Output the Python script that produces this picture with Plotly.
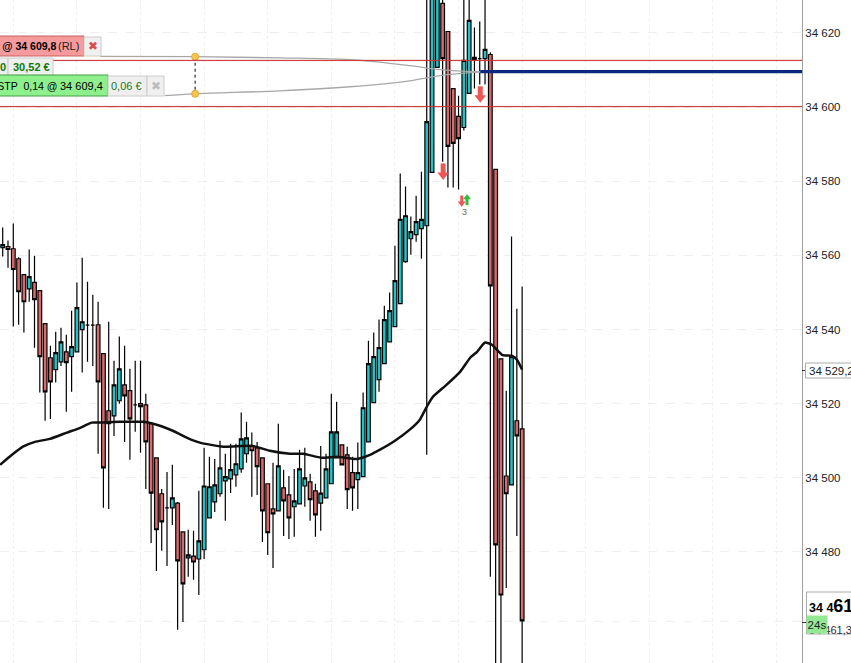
import plotly.graph_objects as go

W, H = 851, 663
PLOT_W = 802

opens = [34562.1,34562.4,34561.8,34559.1,34554.8,34551.0,34552.7,34550.5,34541.6,34532.4,
 34529.2,34531.3,34534.0,34532.7,34534.0,34540.0,34541.2,34541.2,34541.3,34533.5,
 34518.1,34516.7,34520.8,34525.1,34523.5,34519.7,34520.0,34519.7,34514.6,34505.4,
 34495.7,34491.9,34491.9,34493.2,34485.4,34478.4,34478.9,34478.1,34480.6,34489.2,
 34493.5,34495.7,34499.2,34499.7,34500.8,34502.4,34506.5,34508.6,34508.1,34505.4,
 34498.4,34491.6,34491.1,34497.3,34495.4,34492.2,34493.0,34497.8,34498.9,34496.5,
 34493.2,34494.6,34498.4,34505.4,34508.9,34506.2,34501.4,34499.5,34500.3,34509.7,
 34520.3,34526.5,34530.8,34536.7,34540.8,34547.0,34558.3,34564.5,34565.6,34567.2,
 34568.0,34582.4,34610.7,34628.0,34620.4,34605.0,34597.5,34594.5,34603.7,34613.4,
 34613.1,34613.1,34614.2,34583.2,34532.1,34500.5,34498.1,34515.4,34513.2]
highs = [34567.5,34564.0,34568.6,34559.5,34555.0,34561.6,34559.9,34550.5,34541.6,34535.6,
 34539.4,34540.5,34538.6,34545.1,34552.7,34559.4,34552.9,34549.4,34547.5,34533.5,
 34542.1,34531.6,34538.1,34535.6,34529.4,34531.6,34531.6,34522.7,34514.9,34505.4,
 34497.0,34501.6,34503.5,34493.5,34485.4,34486.0,34485.7,34496.5,34508.1,34505.7,
 34505.1,34510.0,34506.5,34509.2,34509.2,34517.6,34515.1,34512.2,34509.7,34505.4,
 34498.4,34504.1,34514.6,34502.2,34500.5,34502.4,34507.6,34508.1,34501.1,34498.4,
 34508.6,34506.5,34522.7,34520.5,34508.9,34508.4,34505.7,34509.5,34523.0,34537.0,
 34539.2,34542.7,34546.4,34550.0,34562.6,34582.1,34578.6,34570.5,34576.1,34582.6,
 34635.0,34640.0,34645.0,34640.0,34620.4,34605.0,34603.1,34640.0,34645.0,34621.5,
 34623.1,34640.0,34614.8,34583.2,34532.1,34523.5,34565.1,34545.6,34551.6]
lows = [34559.7,34556.7,34540.8,34541.3,34539.2,34547.5,34535.1,34523.0,34515.4,34515.9,
 34525.7,34530.2,34517.8,34523.2,34534.0,34528.4,34531.3,34530.2,34506.5,34491.9,
 34491.6,34511.3,34520.0,34509.7,34504.9,34512.4,34506.8,34497.0,34482.4,34474.9,
 34480.3,34476.2,34487.3,34459.0,34461.1,34473.3,34472.5,34468.4,34478.1,34489.2,
 34490.8,34494.9,34488.4,34495.9,34497.6,34501.4,34504.1,34494.9,34495.4,34482.7,
 34479.2,34475.7,34491.1,34484.3,34483.5,34484.1,34493.0,34492.2,34488.4,34484.1,
 34485.7,34494.6,34498.4,34505.4,34503.5,34491.6,34491.1,34491.6,34500.3,34509.7,
 34520.3,34523.2,34530.8,34536.7,34540.8,34547.0,34558.0,34560.2,34563.7,34559.1,
 34506.2,34582.4,34610.7,34585.3,34578.3,34578.3,34577.8,34593.7,34603.7,34605.0,
 34606.1,34606.1,34473.3,34440.0,34440.0,34470.3,34498.1,34484.3,34440.0]
closes = [34562.9,34561.6,34556.2,34550.2,34547.5,34554.3,34548.1,34532.7,34523.2,34525.9,
 34533.8,34536.7,34531.1,34535.4,34545.9,34542.1,34541.2,34541.2,34525.9,34502.7,
 34514.6,34525.1,34529.4,34522.1,34515.9,34519.7,34519.2,34509.7,34495.9,34486.0,
 34488.1,34491.9,34494.6,34477.6,34471.4,34479.2,34477.3,34483.0,34497.8,34497.6,
 34498.1,34502.7,34500.3,34502.2,34503.8,34510.5,34510.8,34507.3,34503.0,34491.1,
 34485.2,34490.3,34503.2,34493.8,34489.2,34493.8,34502.4,34500.0,34494.1,34490.0,
 34495.9,34502.4,34512.4,34512.4,34503.5,34496.8,34497.3,34501.4,34518.9,34530.8,
 34532.7,34535.1,34542.7,34545.1,34553.2,34569.7,34570.7,34566.4,34569.1,34569.7,
 34596.1,34632.0,34635.0,34613.1,34589.4,34590.2,34591.5,34612.6,34623.4,34612.9,
 34613.1,34615.6,34551.8,34481.9,34468.4,34495.7,34532.7,34511.3,34461.4]

ma_index = [-0.5,1.75,3.8,6.1,8.9,12.1,14.6,16.8,18.4,22.1,26.5,28.4,32.1,34.8,37.2,41.6,47.2,50.4,54.2,56.7,
 60.2,63.1,66.8,69.3,71.2,74,76.8,78.7,80.2,81.2,83.5,86.3,88.2,89.5,91,92.3,94.2,96.1,97,98]
ma_values = [34503.5,34506.2,34508.4,34509.7,34510.5,34512.2,34513.5,34514.9,34514.9,34515.1,34515.1,34514.6,34512.7,
 34510.8,34509.5,34508.4,34508.6,34507.3,34506.5,34506.5,34505.4,34505.7,34505.1,34506.2,34507.6,34510.0,34513.0,
 34515.7,34519.7,34521.9,34524.8,34528.6,34532.4,34534.0,34536.5,34535.9,34533.2,34532.9,34531.9,34529.2]

tick_values = [34480,34500,34520,34540,34560,34580,34600,34620]
tick_labels = ["34 480","34 500","34 520","34 540","34 560","34 580","34 600","34 620"]
grid_x = [2.0,14.0,26.0,38.0,50.0,62.0,74.0,86.0,98.0,110.0,122.0,134.0,146.0]

order_red = [34612.6, 34600.15]
order_blue = 34609.6
last_price = 34461.3
curve_up_x = [18.4,36.3,52.3,65.5,76.8,82.5,90.1]
curve_up_y = [34613.7,34613.6,34613.3,34612.8,34611.2,34610.1,34609.5]
curve_lo_x = [30.6,36.3,52.3,65.5,76.8,82.5,90.1]
curve_lo_y = [34603.1,34603.6,34604.4,34605.5,34607.1,34608.5,34609.5]

TEAL, RED = "#22c3c6", "#d96a6c"

def px(x): return x / PLOT_W
def py(y): return 1 - y / H

fig = go.Figure()
fig.add_trace(go.Candlestick(x=list(range(len(opens))), open=opens, high=highs, low=lows, close=closes,
    increasing=dict(fillcolor=TEAL, line=dict(color="#000000", width=1.2)),
    decreasing=dict(fillcolor=RED, line=dict(color="#000000", width=1.2)),
    whiskerwidth=0, hoverinfo="skip", showlegend=False))
fig.add_trace(go.Scatter(x=ma_index, y=ma_values, mode="lines", line=dict(color="#111111", width=2.5, shape="spline", smoothing=0.5), hoverinfo="skip"))
fig.add_trace(go.Scatter(x=curve_up_x, y=curve_up_y, mode="lines", line=dict(color="#a8a8a8", width=1.3, shape="spline"), hoverinfo="skip"))
fig.add_trace(go.Scatter(x=curve_lo_x, y=curve_lo_y, mode="lines", line=dict(color="#a8a8a8", width=1.3, shape="spline"), hoverinfo="skip"))
fig.add_trace(go.Scatter(x=[90.1,151], y=[order_blue,order_blue], mode="lines", line=dict(color="#0a2a80", width=3.2), hoverinfo="skip"))
fig.add_trace(go.Scatter(x=[36.3,36.3], y=[34613.6,34603.6], mode="lines+markers",
    line=dict(color="#000000", width=1, dash="3px,3px"),
    marker=dict(size=7, color="#f6c64e", line=dict(color="#e0a830", width=1)), hoverinfo="skip"))

def arrow(idx, stem, head, color, symbol, stem_len, stem_w, head_size):
    fig.add_trace(go.Scatter(x=[idx], y=[stem], mode="markers", hoverinfo="skip",
        marker=dict(symbol="line-ns", size=stem_len, line=dict(color=color, width=stem_w))))
    fig.add_trace(go.Scatter(x=[idx], y=[head], mode="markers", hoverinfo="skip",
        marker=dict(symbol=symbol, size=head_size, color=color, line=dict(width=0))))
arrow(83.1, 34583.3, 34581.7, "#ee5555", "triangle-down", 8, 5, 10)
arrow(90.1, 34604.1, 34602.5, "#ee5555", "triangle-down", 8, 5, 10)
arrow(86.6, 34575.2, 34574.1, "#ee5555", "triangle-down", 5, 3, 7)
arrow(87.6, 34574.5, 34575.6, "#33bb44", "triangle-up", 5, 3, 7)

shapes, notes = [], []
def rect(x0, y0, x1, y1, fill, line="rgba(0,0,0,0)", w=1):
    shapes.append(dict(type="rect", xref="paper", yref="paper", x0=px(x0), x1=px(x1), y0=py(y0), y1=py(y1),
                       fillcolor=fill, line=dict(color=line, width=w), layer="above"))
def text(x, y, s, size=11, color="#000000", anchor="left", **kw):
    notes.append(dict(xref="paper", yref="paper", x=px(x), y=py(y), text=s, showarrow=False, xanchor=anchor,
                      yanchor="middle", font=dict(size=size, color=color, family="Liberation Sans"), borderpad=0, **kw))

for p in order_red:
    shapes.append(dict(type="line", xref="paper", yref="y", x0=0, x1=1, y0=p, y1=p, line=dict(color="rgba(255,60,60,0.07)", width=3), layer="above"))
    shapes.append(dict(type="line", xref="paper", yref="y", x0=0, x1=1, y0=p, y1=p, line=dict(color="#c43434", width=1), layer="above"))
shapes.append(dict(type="line", xref="paper", yref="y", x0=0, x1=1, y0=last_price, y1=last_price, line=dict(color="#eeeeee", width=1, dash="dash"), layer="below"))

rect(-5, 36, 84, 56, "#f59b9d", "#c86060")
rect(84, 37, 101, 56, "#f0f0f0", "#cccccc")
text(58.5, 46.5, "<b>0,14 @ 34 609,8</b>", 10.5, anchor="right")
text(80, 46.5, "(RL)", 11, "#222222", anchor="right")
text(93, 46.5, "✖", 12, "#d94a4a", "center")
rect(-5, 58, 8, 76, "#eeeeee", "#cccccc")
rect(8, 58, 53, 76, "#efefef", "#cccccc")
text(3, 67.5, "<b>0</b>", 11, "#0a7a0a", "center")
text(31, 67.5, "<b>30,52 €</b>", 11, "#0a7a0a", "center")
rect(-5, 75, 108, 96, "#8df08d", "#40a040")
text(103.5, 86.5, "34 609,4", 11, anchor="right")
text(57.5, 86.5, "RL:STP  0,14 @", 10.5, anchor="right")
rect(108, 76, 147, 96, "#efefef", "#cccccc")
text(127, 86.5, "0,06 €", 11, "#1a7a1a", "center")
rect(147, 76, 164, 96, "#f0f0f0", "#cccccc")
text(155.5, 86.5, "✖", 12, "#bcbcbc", "center")
text(464, 212, "3", 9, "#666666", "center")

rect(802, 370, 806, 371, "#333333")
rect(805.5, 363, 853, 378, "#ffffff", "#aaaaaa")
text(808, 370.5, "34 529,2", 11.5, "#222222")
rect(802, 622, 806, 623, "#333333")
rect(806.5, 592, 853, 634, "#ffffff", "#aaaaaa")
text(808, 606, "<b>34 4<span style='font-size:18px'>61</span></b>", 12.5)
text(808, 630, "34 461,3", 11, "#333333")
notes.append(dict(xref="paper", yref="paper", x=px(806), y=py(624.5), text="24s", showarrow=False, xanchor="left", yanchor="middle",
                  width=20, height=17, bgcolor="#93e893", font=dict(size=11.5, color="#222222", family="Liberation Sans"), borderpad=0))

fig.update_layout(
    width=W, height=H, margin=dict(l=0, r=W-PLOT_W, t=0, b=0, pad=0),
    plot_bgcolor="#ffffff", paper_bgcolor="#ffffff", showlegend=False,
    boxgap=0.0, shapes=shapes, annotations=notes,
    font=dict(family="Liberation Sans", color="#333333"),
    xaxis=dict(range=[-0.51,150.8], rangeslider=dict(visible=False), tickvals=grid_x, showticklabels=False, ticks="",
               showgrid=True, gridcolor="#efefef", griddash="dot", zeroline=False, showline=False),
    yaxis=dict(range=[34450.05,34628.9], side="right", tickvals=tick_values, ticktext=tick_labels, ticks="",
               tickfont=dict(size=11.5, color="#222222", family="Liberation Sans"),
               showgrid=True, gridcolor="#efefef", griddash="dash", zeroline=False,
               showline=True, linecolor="#a0a0a0", linewidth=1),
)
fig.write_html("out.html", config=dict(displayModeBar=False),
               post_script="document.body.style.margin='0';document.body.style.overflow='hidden';")
